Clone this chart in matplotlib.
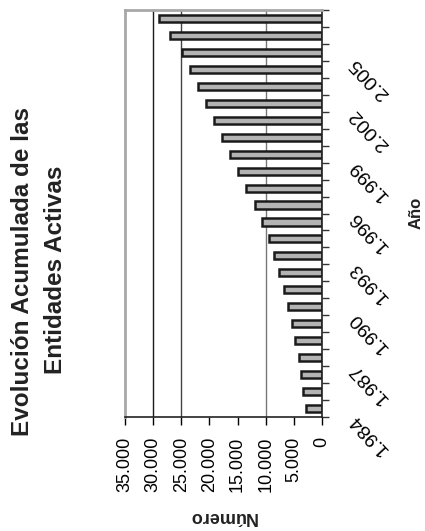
import numpy as np
import matplotlib
matplotlib.use("Agg")
import matplotlib.pyplot as plt

plt.rcParams['font.family'] = ['Liberation Sans', 'DejaVu Sans']

# cumulative number of active entities per year
years = list(range(1984, 2008))
values = [2900, 3320, 3730, 4090, 4740, 5330, 6040, 6750, 7580, 8470,
          9470, 10660, 11900, 13500, 14920, 16340, 17760, 19180, 20660,
          21970, 23450, 24800, 27000, 29000]
value_ticks = [0, 5000, 10000, 15000, 20000, 25000, 30000, 35000]
labelled_years = [1984, 1987, 1990, 1993, 1996, 1999, 2002, 2005]
title_lines = ["Evolución Acumulada de las", "Entidades Activas"]


def miles(v):
    return "{:,}".format(int(v)).replace(",", ".")


W, H = 425, 531
fig = plt.figure(figsize=(W / 100, H / 100), dpi=100)
ax = fig.add_axes([125 / W, 1 - 417 / H, 197 / W, 407 / H])

# odd gridlines as in the source
ax.axvline(30000, color='#1a1a1a', lw=1.0, zorder=1)
ax.axvline(25000, color='#444444', lw=1.0, zorder=1)
ax.axvline(10000, color='#777777', lw=1.0, zorder=1)

ax.barh(years, values, height=0.42, color='#b3b3b3', edgecolor='#1a1a1a',
        linewidth=1.8, zorder=2)

ax.set_xlim(35000, 0)
ax.set_ylim(years[0] - 0.5, years[-1] + 0.5)

# value axis at the bottom
ax.set_xticks(value_ticks)
ax.set_xticklabels([miles(v) for v in value_ticks], rotation=90, fontsize=13)
ax.tick_params(axis='x', direction='out', length=6, width=1, pad=8, color='black')

# year axis on the right, ticks between categories
ax.yaxis.tick_right()
ax.set_yticks(np.arange(years[0] - 0.5, years[-1] + 1, 1))
ax.set_yticklabels([])
ax.tick_params(axis='y', direction='out', length=5, width=1, color='#333333')

for y in labelled_years:
    ax.annotate(miles(y), xy=(1, y), xycoords=('axes fraction', 'data'),
                xytext=(47 * 0.72, -26 * 0.72), textcoords='offset points',
                rotation=133, ha='center', va='center', fontsize=14,
                annotation_clip=False)

ax.spines['left'].set_color('#a8a8a8')
ax.spines['left'].set_linewidth(2)
ax.spines['top'].set_color('#a8a8a8')
ax.spines['top'].set_linewidth(2)
ax.spines['bottom'].set_color('#222222')
ax.spines['bottom'].set_linewidth(1.2)
ax.spines['right'].set_color('#222222')
ax.spines['right'].set_linewidth(1.2)

fig.text(23 / W, 1 - 271 / H, title_lines[0], rotation=90, fontsize=17.5,
         fontweight='bold', ha='center', va='center', color='#222222')
fig.text(56 / W, 1 - 270 / H, title_lines[1], rotation=90, fontsize=17.5,
         fontweight='bold', ha='center', va='center', color='#222222')

fig.text(416 / W, 1 - 213 / H, "Año", rotation=90, fontsize=12,
         fontweight='bold', ha='center', va='center', color='#222222')
fig.text(223 / W, 1 - 517 / H, "Número", rotation=180, fontsize=13,
         fontweight='bold', ha='center', va='center', color='#222222')

fig.savefig("out.png", dpi=100)
